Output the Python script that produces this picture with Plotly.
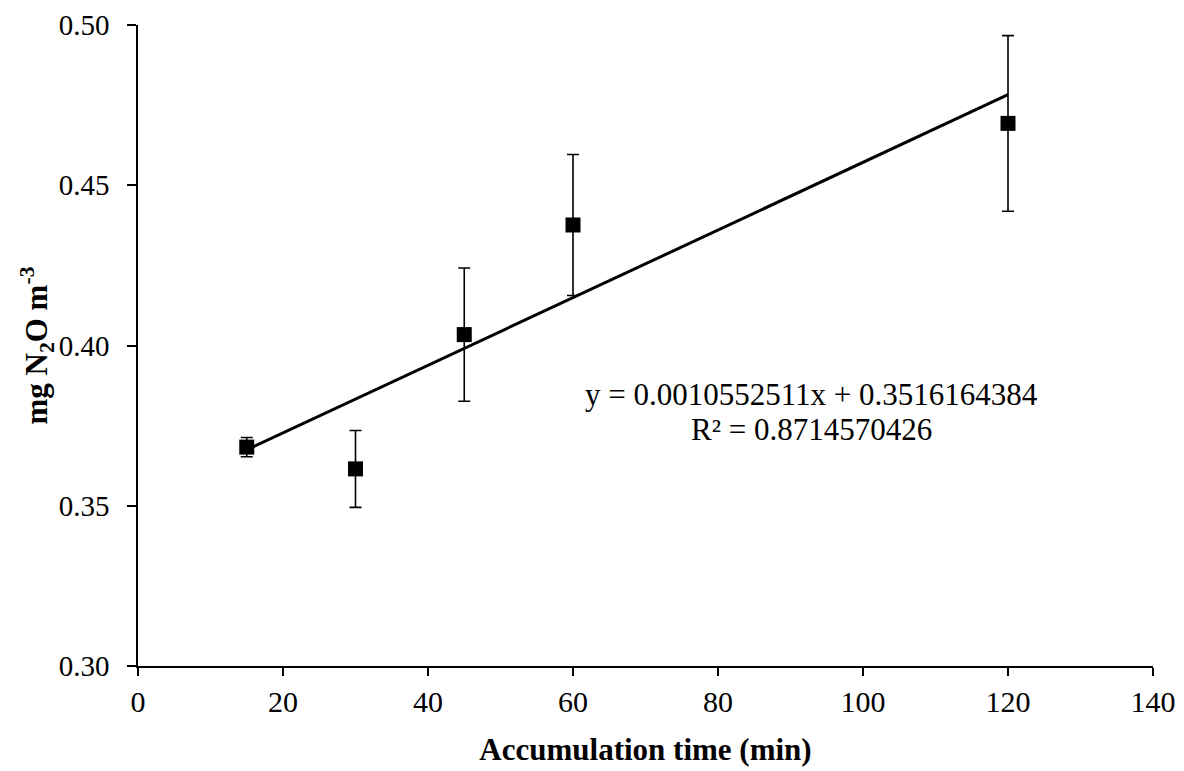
import plotly.graph_objects as go

# Data
time_min = [15, 30, 45, 60, 120]
n2o = [0.3683, 0.3615, 0.4034, 0.4376, 0.4693]
n2o_err = [0.003, 0.012, 0.0208, 0.022, 0.0274]

# Linear trendline shown on the chart
slope = 0.0010552511
intercept = 0.3516164384
r2 = 0.8714570426
trend_x = [min(time_min), max(time_min)]
trend_y = [slope * x + intercept for x in trend_x]

x_ticks = [0, 20, 40, 60, 80, 100, 120, 140]
y_ticks = [0.30, 0.35, 0.40, 0.45, 0.50]

FONT = "Liberation Serif, Times New Roman, serif"

fig = go.Figure()
fig.add_trace(go.Scatter(
    x=trend_x, y=trend_y, mode="lines",
    line=dict(color="black", width=3),
    showlegend=False, hoverinfo="skip"))
fig.add_trace(go.Scatter(
    x=time_min, y=n2o, mode="markers",
    marker=dict(symbol="square", size=15, color="black"),
    error_y=dict(type="data", array=n2o_err, visible=True,
                 color="black", thickness=1.6, width=6),
    showlegend=False))

fig.add_annotation(
    x=0.664, y=0.4239, xref="paper", yref="paper",
    text=f"y = {slope:.10f}x + {intercept:.10f}",
    showarrow=False, xanchor="center", yanchor="middle",
    font=dict(family=FONT, size=31, color="black"))
fig.add_annotation(
    x=0.664, y=0.3696, xref="paper", yref="paper",
    text=f"R² = {r2:.10f}",
    showarrow=False, xanchor="center", yanchor="middle",
    font=dict(family=FONT, size=31, color="black"))

fig.update_layout(
    width=1184, height=771,
    margin=dict(l=130, r=39, t=17, b=113, autoexpand=False),
    paper_bgcolor="white", plot_bgcolor="white",
    font=dict(family=FONT, size=29, color="black"),
)
fig.update_xaxes(
    range=[0, 140], tickvals=x_ticks, ticktext=[str(v) for v in x_ticks],
    showgrid=False, zeroline=False, automargin=False,
    showline=True, linecolor="black", linewidth=1.5,
    ticks="outside", ticklen=8, tickwidth=1.5, tickcolor="black",
    tickfont=dict(family=FONT, size=30),
    ticklabeloverflow="allow",
    title=dict(text="<b>Accumulation time (min)</b>",
               font=dict(family=FONT, size=31), standoff=22))
fig.update_yaxes(
    range=[0.30, 0.50], tickvals=y_ticks,
    ticktext=[f"{v:.2f}" for v in y_ticks],
    showgrid=False, zeroline=False, automargin=False,
    showline=True, linecolor="black", linewidth=1.5,
    ticks="outside", ticklen=9, tickwidth=1.5, tickcolor="black",
    tickfont=dict(family=FONT, size=29),
    ticklabeloverflow="allow", ticklabelstandoff=12,
    title=dict(text="<b>mg N<sub>2</sub>O m<sup>-3</sup></b>",
               font=dict(family=FONT, size=31), standoff=0))

fig.write_html("out.html")
